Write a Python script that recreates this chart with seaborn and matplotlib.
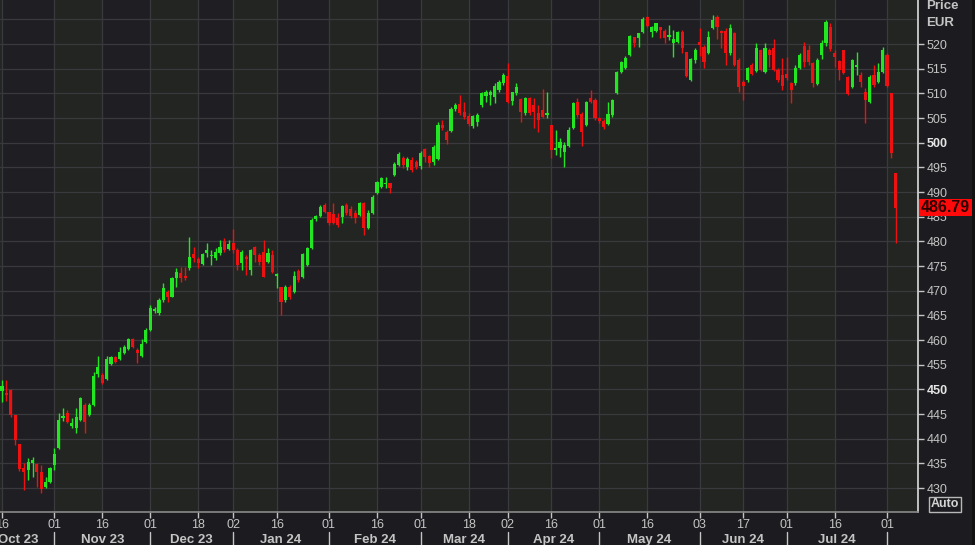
import numpy as np
import pandas as pd
import matplotlib
matplotlib.use("Agg")
import matplotlib.pyplot as plt
import matplotlib.transforms as mtransforms
from matplotlib.patches import Rectangle
import seaborn as sns

### Data ###
holidays = ["2023-12-25", "2023-12-26", "2024-01-01", "2024-03-29", "2024-04-01"]

opens = [
    449.6, 449.3, 449.9, 444.8, 438.9, 434.0, 433.6, 435.1, 434.9, 433.2,
    430.2, 431.2, 434.7, 438.1, 444.2, 445.2, 442.6, 442.2, 443.8, 446.8,
    444.8, 446.8, 453.1, 452.9, 452.1, 455.1, 456.6, 456.2, 457.4, 458.2,
    460.2, 458.0, 456.8, 459.6, 462.0, 465.8, 465.5, 468.1, 469.7, 468.7,
    472.6, 473.6, 473.0, 474.6, 477.4, 476.4, 475.4, 477.6, 477.0, 476.6,
    477.6, 480.1, 478.4, 479.7, 478.2, 475.6, 476.8, 474.2, 478.8, 477.2,
    477.8, 475.8, 477.2, 473.0, 470.7, 468.1, 470.7, 469.7, 474.0, 472.8,
    475.2, 478.6, 484.5, 485.1, 487.4, 485.9, 485.5, 484.7, 484.9, 487.4,
    486.6, 485.7, 485.3, 487.8, 482.7, 485.7, 489.8, 491.0, 491.6, 491.8,
    493.4, 495.5, 496.9, 495.1, 496.5, 496.1, 495.3, 498.7, 497.3, 496.1,
    496.7, 503.6, 502.2, 502.4, 506.8, 507.8, 506.2, 505.4, 503.4, 504.2,
    507.6, 509.5, 509.7, 509.3, 510.7, 512.1, 513.5, 508.5, 510.1, 508.9,
    506.0, 509.1, 507.6, 506.0, 506.6, 505.6, 503.6, 498.5, 498.9, 498.1,
    499.3, 503.0, 508.2, 505.8, 503.6, 509.1, 508.7, 505.0, 504.4, 503.8,
    505.6, 510.1, 514.3, 515.1, 517.8, 521.4, 521.2, 522.4, 525.5, 522.4,
    522.6, 523.4, 522.6, 521.4, 520.2, 520.4, 522.4, 518.4, 512.7, 516.8,
    520.4, 519.4, 518.2, 523.2, 525.5, 522.6, 522.6, 518.2, 522.2, 516.8,
    512.3, 512.7, 515.8, 514.5, 518.8, 514.3, 518.8, 519.2, 514.7, 513.7,
    513.9, 512.1, 512.1, 515.1, 519.5, 518.8, 516.2, 511.9, 517.7, 520.2,
    523.4, 518.2, 516.6, 518.8, 513.3, 511.3, 515.4, 513.7, 510.3, 508.2,
    513.7, 512.3, 514.3, 517.8, 510.0, 493.8,
]
highs = [
    451.9, 451.9, 450.0, 444.8, 439.0, 435.1, 436.1, 436.3, 435.1, 434.7,
    432.2, 434.3, 438.1, 445.2, 446.2, 445.8, 444.2, 446.2, 448.4, 447.2,
    447.2, 453.5, 456.8, 453.3, 456.8, 456.8, 456.8, 458.6, 459.0, 460.4,
    460.4, 458.4, 460.2, 462.4, 467.1, 466.6, 468.5, 471.5, 470.1, 472.8,
    474.6, 474.8, 474.8, 480.9, 478.8, 476.8, 477.6, 479.6, 478.2, 478.6,
    480.3, 480.7, 480.3, 482.5, 478.6, 478.2, 477.2, 478.4, 479.0, 477.6,
    480.3, 478.6, 478.2, 473.6, 470.7, 471.1, 471.1, 474.0, 474.4, 477.6,
    478.8, 484.7, 485.3, 487.4, 487.8, 486.0, 487.8, 485.7, 487.4, 487.8,
    487.2, 486.4, 488.0, 488.0, 486.3, 489.4, 492.3, 493.0, 493.0, 491.9,
    496.1, 498.1, 497.3, 497.1, 497.1, 496.5, 498.3, 499.0, 497.5, 499.5,
    504.2, 504.6, 502.6, 507.2, 508.0, 509.7, 508.2, 506.0, 505.6, 506.0,
    510.3, 510.7, 510.7, 512.1, 512.7, 514.1, 516.2, 510.3, 512.1, 509.1,
    509.3, 509.3, 509.1, 507.6, 510.9, 510.3, 503.6, 502.6, 501.0, 500.1,
    503.2, 508.3, 509.1, 506.2, 508.5, 510.7, 509.1, 505.2, 504.8, 508.2,
    508.9, 514.5, 516.6, 517.6, 521.8, 521.4, 522.2, 525.5, 525.7, 523.7,
    524.3, 523.4, 523.0, 523.9, 522.8, 522.6, 522.8, 518.4, 517.2, 519.2,
    523.2, 519.8, 522.6, 525.9, 525.9, 522.8, 523.2, 524.1, 522.4, 517.2,
    512.7, 515.3, 516.2, 520.2, 519.0, 520.2, 519.2, 521.0, 515.1, 517.2,
    517.4, 512.3, 515.8, 518.2, 520.4, 519.8, 516.4, 517.2, 520.8, 524.9,
    524.3, 518.8, 516.8, 518.8, 513.5, 517.0, 518.4, 514.3, 511.1, 513.7,
    515.8, 516.2, 519.4, 518.2, 510.1, 493.8,
]
lows = [
    447.4, 447.6, 444.3, 438.8, 433.5, 429.6, 431.6, 432.2, 430.2, 429.0,
    430.0, 431.0, 433.6, 437.9, 443.6, 443.2, 442.2, 441.2, 443.6, 441.2,
    444.6, 446.6, 452.5, 451.1, 451.9, 454.9, 455.3, 456.0, 457.2, 458.0,
    458.4, 455.3, 456.6, 459.4, 461.8, 465.4, 465.1, 467.7, 467.7, 468.7,
    470.7, 471.7, 472.2, 474.2, 475.8, 474.6, 475.2, 476.8, 475.2, 476.2,
    477.2, 477.8, 478.2, 477.6, 474.2, 474.2, 473.2, 473.2, 475.8, 475.2,
    472.8, 475.6, 473.6, 470.5, 465.1, 467.7, 468.3, 469.5, 471.7, 472.6,
    475.0, 478.4, 484.1, 484.9, 485.7, 483.3, 483.5, 482.9, 483.7, 485.3,
    484.7, 483.7, 485.1, 481.3, 482.5, 485.5, 489.6, 490.8, 490.8, 489.8,
    493.2, 495.3, 494.9, 494.5, 494.1, 494.7, 494.7, 496.1, 495.1, 495.5,
    496.5, 502.6, 499.7, 502.2, 506.4, 505.6, 504.8, 503.4, 503.0, 503.4,
    507.2, 508.2, 507.6, 508.0, 510.3, 511.7, 508.0, 507.6, 509.7, 504.2,
    505.6, 505.6, 503.0, 502.2, 505.0, 505.0, 496.9, 497.5, 497.1, 495.1,
    499.1, 502.8, 505.2, 499.3, 503.4, 508.0, 504.6, 504.0, 502.8, 503.6,
    505.2, 509.9, 514.1, 514.9, 517.6, 519.4, 519.4, 522.2, 523.4, 521.4,
    522.4, 521.2, 520.2, 520.8, 517.4, 520.2, 518.2, 513.3, 512.5, 516.2,
    517.6, 515.1, 518.0, 523.0, 521.0, 519.2, 515.8, 517.8, 515.5, 510.3,
    508.6, 512.3, 513.7, 514.3, 514.5, 514.1, 515.3, 514.5, 512.3, 510.7,
    512.7, 508.0, 511.7, 514.9, 515.3, 515.8, 511.3, 511.7, 517.0, 519.6,
    518.6, 515.3, 512.7, 513.9, 509.7, 511.1, 513.7, 511.3, 504.0, 508.0,
    511.3, 512.1, 514.1, 511.3, 496.9, 479.7,
]
closes = [
    450.7, 448.9, 444.8, 439.7, 433.8, 433.2, 435.3, 435.7, 433.2, 429.8,
    431.2, 434.0, 436.9, 443.8, 444.6, 443.4, 443.2, 444.4, 448.2, 443.4,
    446.8, 452.7, 454.5, 451.3, 456.2, 456.6, 455.5, 457.6, 458.6, 460.2,
    458.6, 457.4, 459.2, 462.0, 466.5, 466.3, 468.1, 470.5, 468.7, 472.6,
    473.8, 472.6, 472.6, 476.8, 476.6, 475.6, 477.4, 478.2, 477.2, 477.8,
    478.8, 478.2, 479.4, 478.2, 475.2, 477.8, 476.4, 478.2, 477.2, 475.8,
    472.8, 477.6, 473.8, 473.4, 467.7, 470.7, 468.7, 473.0, 472.2, 477.4,
    478.6, 484.3, 485.1, 487.0, 485.9, 483.7, 483.7, 483.3, 487.2, 485.7,
    485.1, 484.7, 487.8, 482.7, 485.7, 489.0, 492.0, 492.8, 491.8, 490.8,
    495.7, 497.7, 495.5, 496.7, 494.5, 495.1, 497.9, 497.1, 495.9, 499.1,
    503.6, 503.0, 500.5, 506.8, 507.6, 506.0, 505.2, 503.8, 505.4, 505.6,
    510.1, 510.3, 510.3, 511.5, 512.3, 513.7, 508.2, 510.3, 511.3, 506.2,
    509.1, 506.0, 506.2, 504.6, 505.2, 506.0, 498.5, 498.9, 500.1, 499.5,
    502.6, 508.0, 505.6, 502.2, 508.2, 508.2, 505.0, 504.4, 503.2, 505.8,
    508.7, 514.3, 516.4, 517.2, 521.6, 520.2, 522.2, 525.1, 523.7, 523.4,
    524.3, 522.8, 521.2, 521.8, 521.0, 522.4, 519.2, 513.5, 517.0, 518.8,
    519.8, 516.4, 521.4, 524.9, 523.4, 522.2, 518.2, 523.2, 515.8, 511.3,
    511.5, 515.1, 513.9, 519.2, 514.7, 519.2, 517.8, 514.7, 512.7, 511.5,
    513.1, 510.7, 515.1, 517.8, 516.4, 516.4, 512.1, 516.8, 520.2, 524.5,
    519.0, 517.4, 514.7, 514.1, 509.9, 516.8, 515.6, 512.3, 508.6, 513.3,
    511.7, 514.3, 518.8, 511.5, 497.9, 486.79,
]

tick_dates = [
    "2023-10-16", "2023-11-01", "2023-11-16", "2023-12-01", "2023-12-18",
    "2024-01-02", "2024-01-16", "2024-02-01", "2024-02-16", "2024-03-01",
    "2024-03-18", "2024-04-02", "2024-04-16", "2024-05-01", "2024-05-16",
    "2024-06-03", "2024-06-17", "2024-07-01", "2024-07-16", "2024-08-01",
]
month_labels = ["Oct 23", "Nov 23", "Dec 23", "Jan 24", "Feb 24",
                "Mar 24", "Apr 24", "May 24", "Jun 24", "Jul 24"]
y_ticks = list(range(430, 521, 5))
bold_ticks = [450, 500]

### Build frame ###
dates = pd.bdate_range("2023-10-16", "2024-08-05")
dates = dates[~dates.isin(pd.to_datetime(holidays))]
df = pd.DataFrame({"date": dates, "open": opens, "high": highs,
                   "low": lows, "close": closes})
df["pos"] = np.arange(len(df))
df["up"] = df["close"] >= df["open"]

tick_pos = [dates.get_loc(pd.Timestamp(d)) for d in tick_dates]
month_start = [i for i in range(1, len(dates)) if dates[i].month != dates[i - 1].month]

### Style ###
GREEN = "#22e622"
RED = "#ee1111"
BG_DARK = "#1f1e22"
BG_ALT = "#222521"
GRID = "#3a3a3e"
TXT = "#c4c4c4"

sns.set_style("dark", {"axes.facecolor": BG_DARK, "figure.facecolor": "#1c1b1f"})
plt.rcParams["font.family"] = ["Liberation Sans", "DejaVu Sans"]

W, H = 975, 545
fig = plt.figure(figsize=(W / 100, H / 100), dpi=100)
fig.patch.set_facecolor("#1c1b1f")
ax = fig.add_axes([0, 33 / H, 918 / W, 512 / H])

x_left, x_right = -0.46, 210.1
ax.set_xlim(x_left, x_right)
ax.set_ylim(425.14, 528.92)

# alternating background bands between date ticks
edges = tick_pos + [x_right]
ax.axvspan(x_left, edges[0], color=BG_ALT, lw=0, zorder=0)
for k in range(len(edges) - 1):
    ax.axvspan(edges[k], edges[k + 1], color=BG_DARK if k % 2 == 0 else BG_ALT,
               lw=0, zorder=0)

for v in range(425, 530, 5):
    ax.axhline(v, color=GRID, lw=0.9, zorder=1)
for p in tick_pos:
    ax.axvline(p, color=GRID, lw=0.9, zorder=1)

# candles
colors = np.where(df["up"], GREEN, RED)
ax.vlines(df["pos"], df["low"], df["high"], colors=colors, lw=1, zorder=3)
body_lo = df[["open", "close"]].min(axis=1)
body_h = (df["close"] - df["open"]).abs().clip(lower=0.3)
ax.bar(df["pos"], body_h, bottom=body_lo, width=0.72, color=colors,
       lw=0, zorder=4)

# spines
for s in ["top", "left"]:
    ax.spines[s].set_visible(False)
ax.spines["right"].set_color("#dcdcdc")
ax.spines["right"].set_linewidth(1.2)
ax.spines["bottom"].set_color("#8a8a8a")
ax.spines["bottom"].set_linewidth(1.2)

# y axis on the right
ax.yaxis.tick_right()
ax.set_yticks(y_ticks)
ax.set_yticklabels([str(t) for t in y_ticks])
ax.tick_params(axis="y", colors=TXT, labelcolor=TXT, length=4, width=1,
               pad=2, labelsize=9, right=True, left=False)
for lbl, t in zip(ax.get_yticklabels(), y_ticks):
    if t in bold_ticks:
        lbl.set_fontweight("bold")
        lbl.set_color("#e6e6e6")

# x axis: day numbers
ax.set_xticks(tick_pos)
ax.set_xticklabels([d[-2:] for d in tick_dates])
ax.tick_params(axis="x", colors=TXT, labelcolor=TXT, length=4, width=1,
               pad=1, labelsize=9, bottom=True)
ax.grid(False)

# month labels with separators
trans = mtransforms.blended_transform_factory(ax.transData, ax.transAxes)
bounds = [x_left] + month_start
for k, name in enumerate(month_labels):
    if k == 0:
        ax.text(x_left - 0.5, -0.0547, name, transform=trans, ha="left",
                va="center", fontsize=9.5, fontweight="bold", color=TXT,
                clip_on=False)
    else:
        ax.text((bounds[k] + bounds[k + 1]) / 2, -0.0547, name, transform=trans,
                ha="center", va="center", fontsize=9.5, fontweight="bold",
                color=TXT, clip_on=False)
for m in month_start:
    ax.plot([m, m], [-0.04, -0.065], transform=trans, color=TXT, lw=1,
            clip_on=False)

# header and price tag
fig.text(926 / W, 1 - 6 / H, "Price", ha="left", va="center", fontsize=9.5,
         fontweight="bold", color=TXT)
fig.text(926 / W, 1 - 23 / H, "EUR", ha="left", va="center", fontsize=9.5,
         fontweight="bold", color=TXT)

last = closes[-1]
ytrans = mtransforms.blended_transform_factory(fig.transFigure, ax.transData)
ax.add_patch(Rectangle((919 / W, last - 1.75), 53 / W, 3.5, transform=ytrans,
                       facecolor="#ff0a0a", edgecolor="none", clip_on=False,
                       zorder=10))
ax.text(945.5 / W, last, f"{last:.2f}", transform=ytrans, ha="center",
        va="center", fontsize=11.5, fontweight="bold", color="#2a0000",
        clip_on=False, zorder=11)

fig.text(945 / W, 1 - 504 / H, "Auto", ha="center", va="center", fontsize=9,
         fontweight="bold", color="#d4d4d4",
         bbox=dict(boxstyle="square,pad=0.12", fc="none", ec="#b8b8b8", lw=1))

fig.patches.append(Rectangle((972 / W, 0), 3 / W, 1, transform=fig.transFigure,
                             facecolor="#121212", edgecolor="none"))

fig.savefig("out.png", dpi=100, facecolor=fig.get_facecolor())
